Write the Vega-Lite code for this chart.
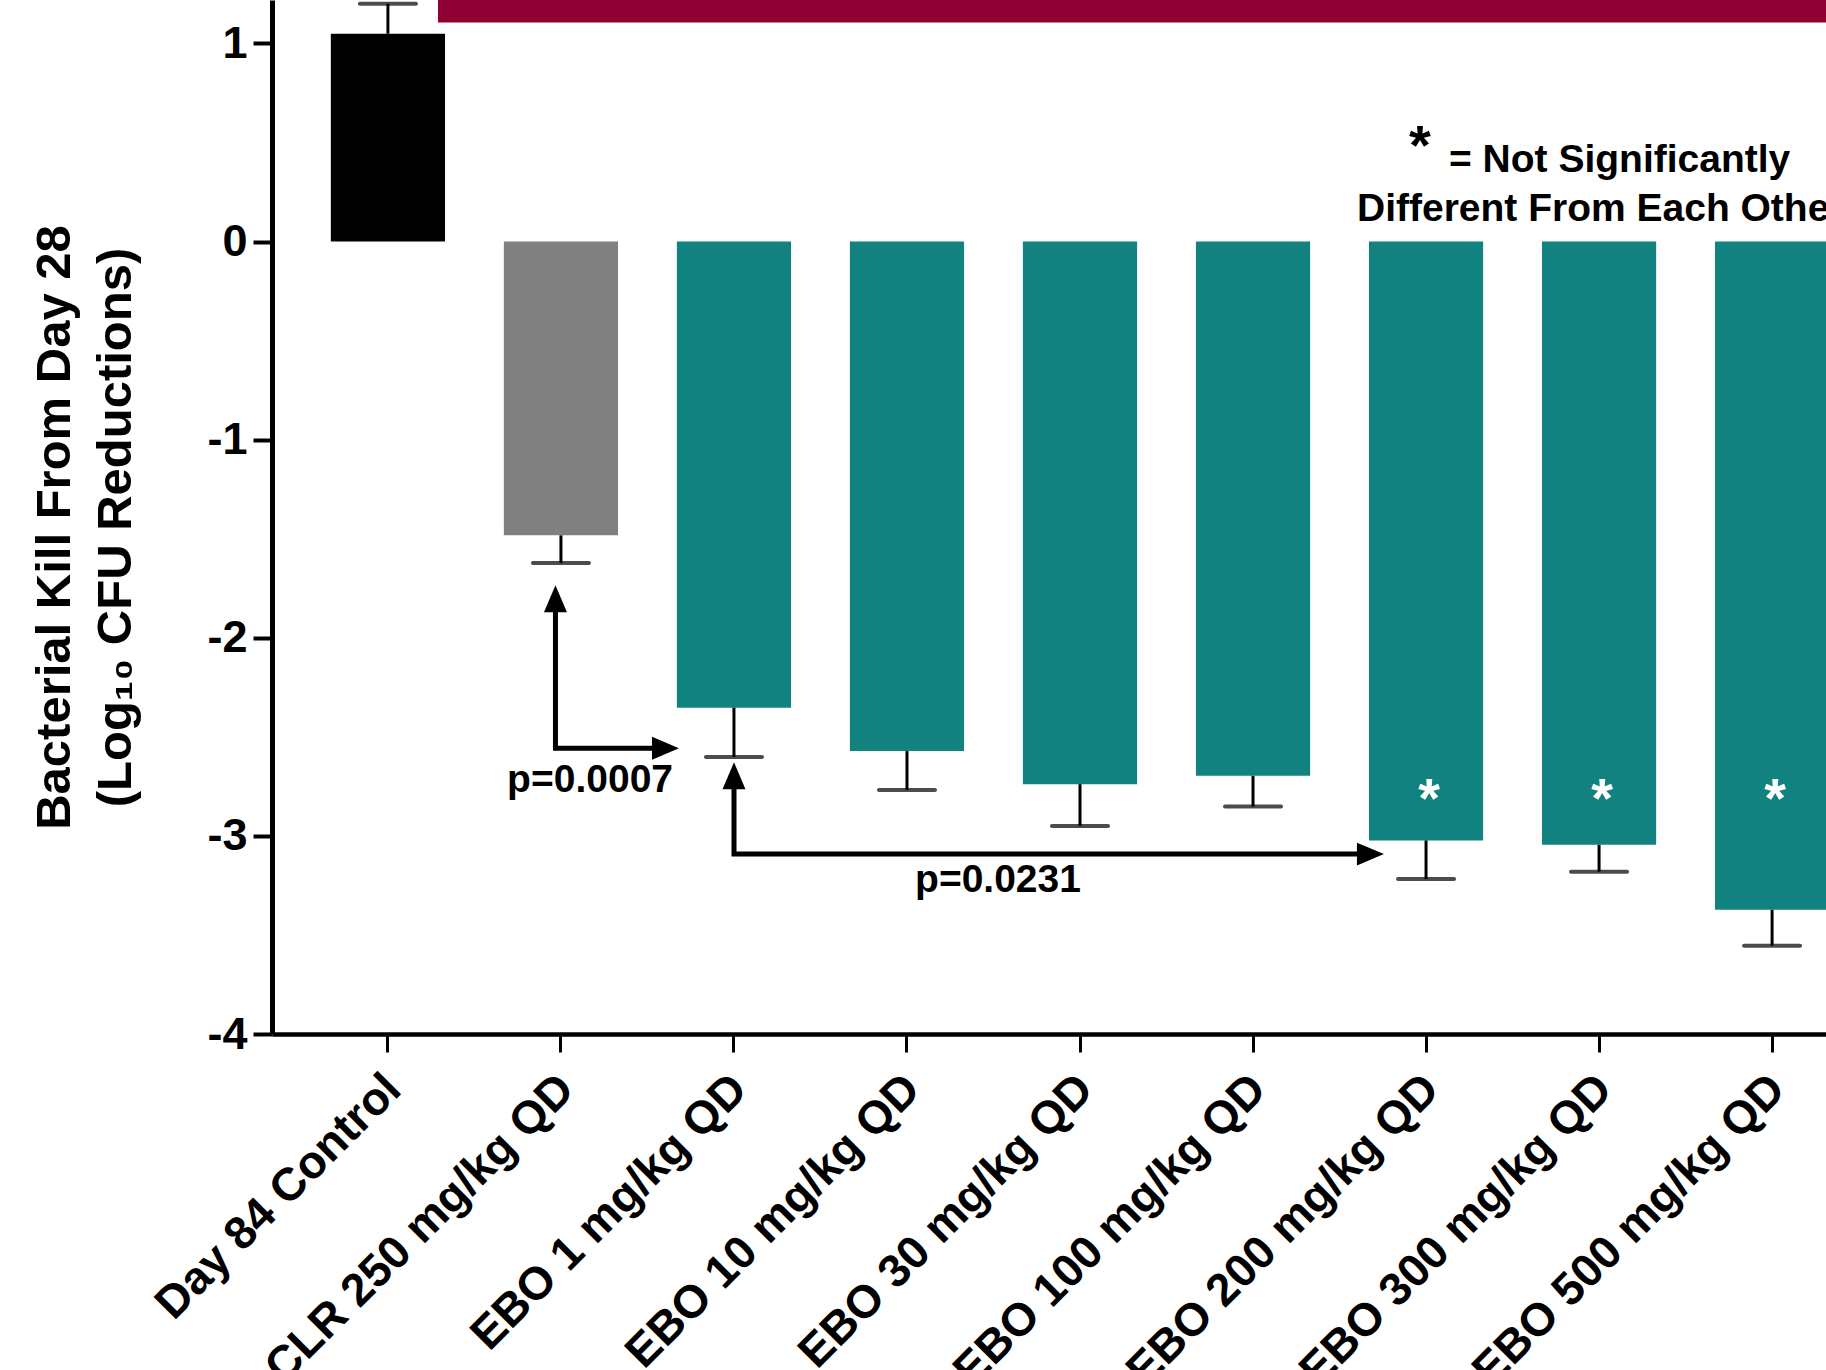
{
  "$schema": "https://vega.github.io/schema/vega-lite/v6.json",
  "autosize": {"type": "none"},
  "padding": {"left": 272, "top": 0, "right": -62, "bottom": 336},
  "width": 1616,
  "height": 1034,
  "background": "white",
  "config": {
    "view": {"stroke": null},
    "font": "Liberation Sans",
    "axis": {
      "labelFont": "Liberation Sans",
      "labelFontWeight": "bold",
      "labelColor": "black",
      "titleFont": "Liberation Sans",
      "titleFontWeight": "bold",
      "titleColor": "black",
      "domainColor": "black",
      "tickColor": "black",
      "grid": false
    }
  },
  "datasets": {
    "bars": [
      {"treatment": "Day 84 Control", "group": "Control", "mean": 1.049, "err": 1.2, "star": ""},
      {"treatment": "CLR 250 mg/kg QD", "group": "CLR", "mean": -1.483, "err": -1.623, "star": ""},
      {"treatment": "EBO 1 mg/kg QD", "group": "EBO", "mean": -2.353, "err": -2.602, "star": ""},
      {"treatment": "EBO 10 mg/kg QD", "group": "EBO", "mean": -2.572, "err": -2.768, "star": ""},
      {"treatment": "EBO 30 mg/kg QD", "group": "EBO", "mean": -2.739, "err": -2.95, "star": ""},
      {"treatment": "EBO 100 mg/kg QD", "group": "EBO", "mean": -2.697, "err": -2.852, "star": ""},
      {"treatment": "EBO 200 mg/kg QD", "group": "EBO", "mean": -3.023, "err": -3.218, "star": "*"},
      {"treatment": "EBO 300 mg/kg QD", "group": "EBO", "mean": -3.045, "err": -3.181, "star": "*"},
      {"treatment": "EBO 500 mg/kg QD", "group": "EBO", "mean": -3.373, "err": -3.554, "star": "*"}
    ],
    "banner": [{"x": 0.289, "x2": 8.6705, "y": 1.106, "y2": 1.219}],
    "arrows": [
      {"arrow": "a", "ord": 1, "x": 0.968, "y": -1.85},
      {"arrow": "a", "ord": 2, "x": 0.968, "y": -2.558},
      {"arrow": "a", "ord": 3, "x": 1.55, "y": -2.558},
      {"arrow": "b", "ord": 1, "x": 2.0, "y": -2.75},
      {"arrow": "b", "ord": 2, "x": 2.0, "y": -3.092},
      {"arrow": "b", "ord": 3, "x": 5.65, "y": -3.092}
    ],
    "heads": [
      {"dir": "up", "x": 0.968, "y": -1.803},
      {"dir": "right", "x": 1.604, "y": -2.558},
      {"dir": "up", "x": 2.0, "y": -2.697},
      {"dir": "right", "x": 5.679, "y": -3.092}
    ],
    "pvals": [
      {"label": "p=0.0007", "x": 1.168, "y": -2.78},
      {"label": "p=0.0231", "x": 3.526, "y": -3.284}
    ],
    "note": [
      {"label": "= Not Significantly", "x": 6.133, "y": 0.352},
      {"label": "Different From Each Other", "x": 5.601, "y": 0.105}
    ],
    "notestar": [{"label": "*", "x": 5.965, "y": 0.39}]
  },
  "resolve": {"scale": {"x": "independent"}, "axis": {"x": "independent"}},
  "layer": [
    {
      "data": {"name": "bars"},
      "encoding": {
        "x": {
          "field": "treatment",
          "type": "nominal",
          "sort": null,
          "scale": {"paddingInner": 0.34, "paddingOuter": 0.34},
          "axis": {
            "title": null,
            "labelAngle": -45,
            "labelFontSize": 46,
            "labelLimit": 0,
            "labelOffset": -10,
            "tickSize": 18,
            "tickWidth": 3,
            "domainWidth": 4.5,
            "labelPadding": 14
          }
        }
      },
      "layer": [
        {
          "mark": {"type": "bar"},
          "encoding": {
            "y": {
              "field": "mean",
              "type": "quantitative",
              "scale": {"domain": [-4, 1.219], "nice": false, "zero": false},
              "axis": {
                "title": ["Bacterial Kill From Day 28", "(Log₁₀ CFU Reductions)"],
                "titleFontSize": 49,
                "titleLineHeight": 61,
                "titlePadding": 66,
                "titleY": 527,
                "values": [-4, -3, -2, -1, 0, 1],
                "labelExpr": "datum.value < 0 ? '-' + abs(datum.value) : '' + datum.value",
                "labelFontSize": 45,
                "labelPadding": 6,
                "tickSize": 19,
                "tickWidth": 4,
                "domainWidth": 5
              }
            },
            "y2": {"datum": 0},
            "color": {
              "field": "group",
              "type": "nominal",
              "scale": {"domain": ["Control", "CLR", "EBO"], "range": ["#000000", "#808080", "#128281"]},
              "legend": null
            }
          }
        },
        {
          "mark": {"type": "rule", "color": "black", "strokeWidth": 3},
          "encoding": {
            "y": {"field": "mean", "type": "quantitative"},
            "y2": {"field": "err"}
          }
        },
        {
          "mark": {"type": "tick", "color": "black", "size": 60, "thickness": 4, "orient": "horizontal", "cornerRadius": 2},
          "encoding": {
            "y": {"field": "err", "type": "quantitative"}
          }
        },
        {
          "mark": {"type": "rule", "color": "black", "strokeWidth": 5},
          "encoding": {"y": {"datum": 0}}
        },
        {
          "transform": [{"filter": "datum.star == '*'"}],
          "mark": {"type": "text", "color": "white", "font": "Liberation Sans", "fontWeight": "bold", "fontSize": 56, "baseline": "alphabetic", "dx": 3},
          "encoding": {
            "y": {"datum": -2.905},
            "text": {"field": "star"}
          }
        }
      ]
    },
    {
      "layer": [
        {
          "data": {"name": "banner"},
          "mark": {"type": "rect", "color": "#910035"},
          "encoding": {
            "x": {"field": "x", "type": "quantitative", "scale": {"domain": [-0.6705, 8.6705], "nice": false, "zero": false}, "axis": null},
            "x2": {"field": "x2"},
            "y": {"field": "y", "type": "quantitative"},
            "y2": {"field": "y2"}
          }
        },
        {
          "data": {"name": "arrows"},
          "mark": {"type": "line", "color": "black", "strokeWidth": 5, "strokeJoin": "miter", "strokeCap": "butt"},
          "encoding": {
            "x": {"field": "x", "type": "quantitative", "scale": {"domain": [-0.6705, 8.6705], "nice": false, "zero": false}, "axis": null},
            "y": {"field": "y", "type": "quantitative"},
            "detail": {"field": "arrow"},
            "order": {"field": "ord"}
          }
        },
        {
          "data": {"name": "heads"},
          "mark": {"type": "point", "filled": true, "color": "black", "opacity": 1, "size": 729},
          "encoding": {
            "x": {"field": "x", "type": "quantitative", "scale": {"domain": [-0.6705, 8.6705], "nice": false, "zero": false}, "axis": null},
            "y": {"field": "y", "type": "quantitative"},
            "shape": {
              "field": "dir",
              "type": "nominal",
              "scale": {"domain": ["up", "right"], "range": ["M0,-1L0.85,1L-0.85,1Z", "M1,0L-1,0.85L-1,-0.85Z"]},
              "legend": null
            }
          }
        },
        {
          "data": {"name": "pvals"},
          "mark": {"type": "text", "color": "black", "font": "Liberation Sans", "fontWeight": "bold", "fontSize": 39, "baseline": "alphabetic", "align": "center"},
          "encoding": {
            "x": {"field": "x", "type": "quantitative", "scale": {"domain": [-0.6705, 8.6705], "nice": false, "zero": false}, "axis": null},
            "y": {"field": "y", "type": "quantitative"},
            "text": {"field": "label"}
          }
        },
        {
          "data": {"name": "note"},
          "mark": {"type": "text", "color": "black", "font": "Liberation Sans", "fontWeight": "bold", "fontSize": 39, "baseline": "alphabetic", "align": "left"},
          "encoding": {
            "x": {"field": "x", "type": "quantitative", "scale": {"domain": [-0.6705, 8.6705], "nice": false, "zero": false}, "axis": null},
            "y": {"field": "y", "type": "quantitative"},
            "text": {"field": "label"}
          }
        },
        {
          "data": {"name": "notestar"},
          "mark": {"type": "text", "color": "black", "font": "Liberation Sans", "fontWeight": "bold", "fontSize": 56, "baseline": "alphabetic", "align": "center"},
          "encoding": {
            "x": {"field": "x", "type": "quantitative", "scale": {"domain": [-0.6705, 8.6705], "nice": false, "zero": false}, "axis": null},
            "y": {"field": "y", "type": "quantitative"},
            "text": {"field": "label"}
          }
        }
      ]
    }
  ]
}
